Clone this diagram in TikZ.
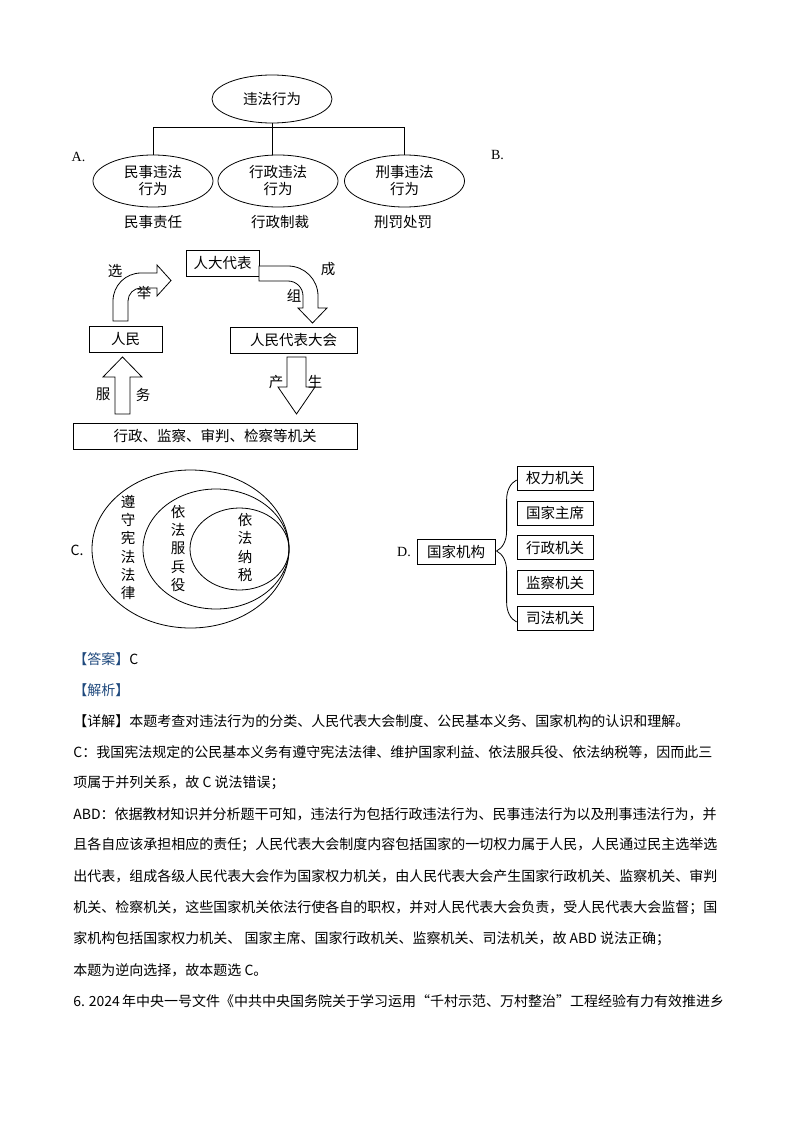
\documentclass[tikz,border=0pt]{standalone}
\usepackage{fontspec}
\setmainfont{Noto Sans CJK SC}
\newfontfamily\serifltn{Liberation Serif}
\usetikzlibrary{shapes.geometric,decorations.pathreplacing}
\XeTeXlinebreaklocale "zh"
\XeTeXlinebreakskip=0pt plus 2pt minus 0.6pt
\definecolor{ansblue}{RGB}{31,73,125}
\newcommand{\dgfont}{\fontsize{14.5}{17}\selectfont}
\newcommand{\txtfont}{\fontsize{14}{17}\selectfont}
\newcommand{\jline}[1]{\hbox to 631pt{#1}}
\tikzset{
  ebox/.style={draw, ellipse, minimum width=120, minimum height=52, inner sep=0pt, align=center, font=\dgfont},
  rbox/.style={draw, minimum height=26, inner sep=0pt, font=\dgfont},
  sbox/.style={draw, minimum width=76, minimum height=24, inner sep=0pt, font=\dgfont},
  blockarrow/.style={draw, fill=white},
  lbl/.style={inner sep=0pt, font=\dgfont},
  vtxt/.style={inner sep=0pt, align=center, font=\fontsize{14.5}{18.3}\selectfont},
  txt/.style={anchor=west, inner sep=0pt, font=\txtfont},
  opt/.style={inner sep=0pt, font=\serifltn\fontsize{14}{14}\selectfont},
}
\begin{document}
\begin{tikzpicture}[x=1pt, y=-1pt, line width=0.8pt]
    \useasboundingbox (0,0) rectangle (794,1123);

    % A: kinds of illegal acts
    \node[opt] (la) at (78.5,157) {A.};
    \node[opt] (lb) at (497.5,155) {B.};
    \node[ebox, minimum height=48] (wf) at (272,99) {违法行为};
    \node[ebox] (ms) at (153,181) {民事违法\\行为};
    \node[ebox] (xz) at (278,181) {行政违法\\行为};
    \node[ebox] (xs) at (404.5,181) {刑事违法\\行为};
    \draw (wf.south) -- ++(0,4) coordinate (bar);
    \draw (ms.north) |- (bar) -| (xs.north);
    \draw (wf.south) -- (wf.south |- xz.north);
    \node[lbl] (zr1) at (153,222) {民事责任};
    \node[lbl] (zr2) at (280,222) {行政制裁};
    \node[lbl] (zr3) at (403,222) {刑罚处罚};

    % B: people and congress
    \node[rbox, minimum width=73] (db) at (222.5,263) {人大代表};
    \node[rbox, minimum width=73] (rm) at (125.5,339) {人民};
    \node[rbox, minimum width=127] (rdh) at (293.5,340) {人民代表大会};
    \node[rbox, minimum width=284] (jg) at (215,436) {行政、监察、审判、检察等机关};

    % curved arrows
    \draw[blockarrow] (113,321) -- (113,301) arc[start angle=180, end angle=270, radius=28]
        -- (157,273) -- (157,265) -- (171,280.5) -- (157,296) -- (157,288) -- (141,288)
        arc[start angle=270, end angle=180, radius=13] -- (128,321) -- cycle;
    \draw[blockarrow] (259,266) -- (288,266) arc[start angle=270, end angle=360, radius=30]
        -- (318,308) -- (327,308) -- (312.5,323) -- (298,308) -- (303,308) -- (303,296)
        arc[start angle=0, end angle=-90, radius=15] -- (259,281) -- cycle;
    % straight arrows
    \draw[blockarrow] (115,414) -- (115,377) -- (103,377) -- (122.5,357) -- (142,377)
        -- (130,377) -- (130,414) -- cycle;
    \draw[blockarrow] (287,357) -- (306,357) -- (306,387) -- (315,387) -- (296.5,414)
        -- (278,387) -- (287,387) -- cycle;
    \node[lbl] (xuan) at (115,271) {选};
    \node[lbl] (ju) at (144,293) {举};
    \node[lbl] (cheng) at (328,269) {成};
    \node[lbl] (zu) at (294,296) {组};
    \node[lbl] (fu) at (103,394) {服};
    \node[lbl] (wu) at (143,395) {务};
    \node[lbl] (chan) at (276,382) {产};
    \node[lbl] (sheng) at (315,382) {生};

    % C: nested duties
    \node[inner sep=0pt, font=\fontsize{14}{14}\selectfont] (lc) at (77,550) {C.};
    \draw (190.5,549) ellipse [x radius=98.5, y radius=79];
    \draw (216,549) ellipse [x radius=73, y radius=60];
    \draw (239.5,549) ellipse [x radius=49.5, y radius=41];
    \node[vtxt] (zs) at (128,547.5) {遵\\守\\宪\\法\\法\\律};
    \node[vtxt] (fb) at (178,548.3) {依\\法\\服\\兵\\役};
    \node[vtxt] (ns) at (245,547.5) {依\\法\\纳\\税};

    % D: state organs
    \node[opt] (ld) at (404,552) {D.};
    \node[rbox, minimum width=78, minimum height=25] (gjjg) at (456,551.5) {国家机构};
    \node[sbox] (qlj) at (555,478.5) {权力机关};
    \node[sbox] (gjzx) at (555,513) {国家主席};
    \node[sbox] (xzj) at (555,547.5) {行政机关};
    \node[sbox] (jcj) at (555,582.5) {监察机关};
    \node[sbox] (sfj) at (555,618) {司法机关};
    \draw[decorate, decoration={brace, amplitude=20pt}] ([yshift=-4pt]sfj.west) -- ([yshift=-1.5pt]qlj.west);

    % answer text
    \node[txt] (daan) at (73,659) {{\color{ansblue}【答案】}C};
    \node[txt] (jiexi) at (73,690) {\color{ansblue}【解析】};
    \node[txt] (xiangjie) at (73,721) {【详解】本题考查对违法行为的分类、人民代表大会制度、公民基本义务、国家机构的认识和理解。};
    \node[txt] (t4) at (73,752) {\jline{C：我国宪法规定的公民基本义务有遵守宪法法律、维护国家利益、依法服兵役、依法纳税等，因而此三}};
    \node[txt] (t5) at (73,783) {项属于并列关系，故 C 说法错误；};
    \node[txt] (t6) at (73,814) {\jline{ABD：依据教材知识并分析题干可知，违法行为包括行政违法行为、民事违法行为以及刑事违法行为，并}};
    \node[txt] (t7) at (73,845) {\jline{且各自应该承担相应的责任；人民代表大会制度内容包括国家的一切权力属于人民，人民通过民主选举选}};
    \node[txt] (t8) at (73,876) {\jline{出代表，组成各级人民代表大会作为国家权力机关，由人民代表大会产生国家行政机关、监察机关、审判}};
    \node[txt] (t9) at (73,908) {\jline{机关、检察机关，这些国家机关依法行使各自的职权，并对人民代表大会负责，受人民代表大会监督；国}};
    \node[txt] (t10) at (73,939) {家机构包括国家权力机关、 国家主席、国家行政机关、监察机关、司法机关，故 ABD 说法正确；};
    \node[txt] (t11) at (73,970) {本题为逆向选择，故本题选 C。};
    \node[txt] (t12) at (73,1001) {\jline{6. 2024 年中央一号文件《中共中央国务院关于学习运用“千村示范、万村整治”工程经验有力有效推进乡}};
\end{tikzpicture}
\end{document}
